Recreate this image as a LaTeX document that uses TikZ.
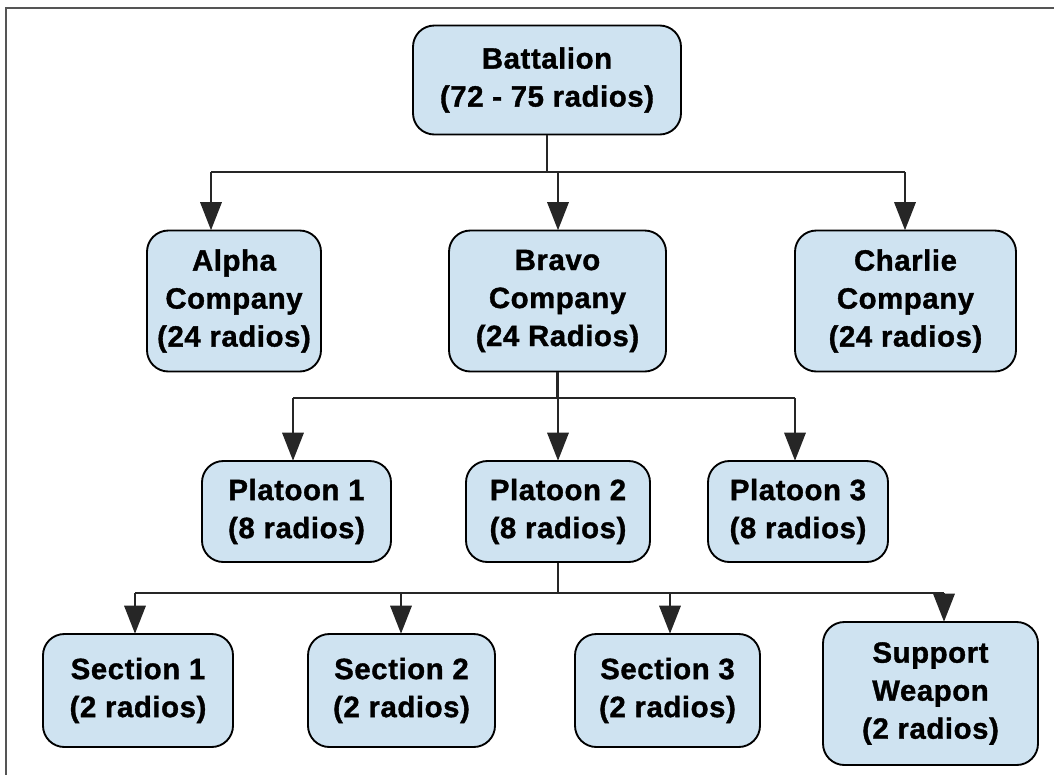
\documentclass[tikz,border=0pt]{standalone}
\usepackage{fontspec}
\setmainfont{Liberation Sans}[BoldFeatures={FakeBold=1.2}, LetterSpace=2]
\usetikzlibrary{arrows.meta}
\definecolor{boxfill}{HTML}{CFE3F1}
\definecolor{framegray}{HTML}{555555}
\tikzset{
  orgbox/.style={draw=black, line width=1.4pt, fill=boxfill, rounded corners=16pt,
    align=center, font=\fontsize{22}{28.5}\selectfont\bfseries, inner sep=2pt},
  conn/.style={draw=black!85, line width=1.6pt},
  arr/.style={conn, -{Triangle[length=21pt,width=16pt]}, shorten >=-0.5pt},
  frameline/.style={draw=framegray, line width=1.5pt}
}
\begin{document}
\begin{tikzpicture}[x=0.75pt, y=-0.75pt]
\useasboundingbox (0,0) rectangle (1054,775);
% frame
\draw[frameline] (6,775) -- (6,8) -- (1054,8);

% nodes
\node[orgbox, minimum width=201pt, minimum height=81.75pt] (bat) at (547,80) {Battalion\\(72 - 75 radios)};
\node[orgbox, minimum width=130.5pt, minimum height=105.75pt] (alpha) at (234,301) {Alpha\\Company\\(24 radios)};
\node[orgbox, minimum width=162.75pt, minimum height=105.75pt] (bravo) at (557.5,301) {Bravo\\Company\\(24 Radios)};
\node[orgbox, minimum width=165.75pt, minimum height=105.75pt] (charlie) at (905.5,301) {Charlie\\Company\\(24 radios)};
\node[orgbox, minimum width=141.75pt, minimum height=75.75pt] (p1) at (296.5,511.5) {Platoon 1\\(8 radios)};
\node[orgbox, minimum width=138pt, minimum height=75.75pt] (p2) at (558,511.5) {Platoon 2\\(8 radios)};
\node[orgbox, minimum width=135pt, minimum height=75.75pt] (p3) at (798,511.5) {Platoon 3\\(8 radios)};
\node[orgbox, minimum width=142.5pt, minimum height=84.75pt] (s1) at (138,690.5) {Section 1\\(2 radios)};
\node[orgbox, minimum width=140.25pt, minimum height=84.75pt] (s2) at (401.5,690.5) {Section 2\\(2 radios)};
\node[orgbox, minimum width=138.75pt, minimum height=84.75pt] (s3) at (667.5,690.5) {Section 3\\(2 radios)};
\node[orgbox, minimum width=161.25pt, minimum height=107.25pt] (sw) at (930.5,693.5) {Support\\Weapon\\(2 radios)};

% bus coordinates
\coordinate (ca) at (211,172);
\coordinate (cb) at (558,172);
\coordinate (cc) at (905,172);
\coordinate (pa) at (293,398);
\coordinate (pb) at (558,398);
\coordinate (pc) at (795,398);
\coordinate (sa) at (135,593);
\coordinate (sb) at (401,593);
\coordinate (sc) at (670,593);
\coordinate (sd) at (944,593);

% battalion -> companies
\draw[conn] (bat.south) -- (bat.south |- ca);
\draw[conn] (ca) -- (cc);
\draw[arr] (ca) -- (ca |- alpha.north);
\draw[arr] (cb) -- (cb |- bravo.north);
\draw[arr] (cc) -- (cc |- charlie.north);

% bravo -> platoons
\draw[conn] (bravo.south) -- (bravo.south |- pa);
\draw[conn] (pa) -- (pc);
\draw[arr] (pa) -- (pa |- p1.north);
\draw[arr] (pb) -- (pb |- p2.north);
\draw[arr] (pc) -- (pc |- p3.north);

% platoon 2 -> sections
\draw[conn] (p2.south) -- (p2.south |- sa);
\draw[conn] (sa) -- (sd);
\draw[arr] (sa) -- (sa |- s1.north);
\draw[arr] (sb) -- (sb |- s2.north);
\draw[arr] (sc) -- (sc |- s3.north);
\draw[arr] (sd) -- (sd |- sw.north);
\end{tikzpicture}
\end{document}
